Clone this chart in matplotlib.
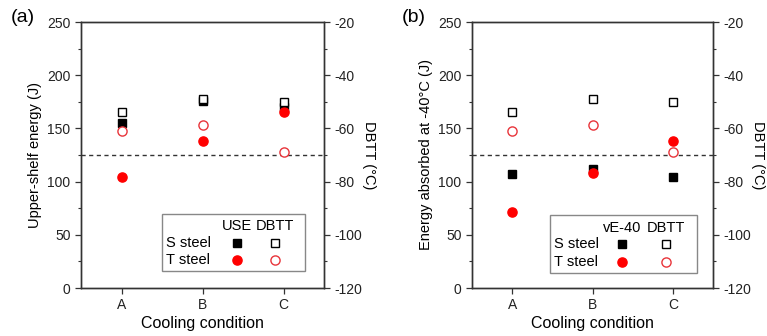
import numpy as np
import matplotlib
matplotlib.use('Agg')
import matplotlib.pyplot as plt
from matplotlib.patches import Rectangle

plt.rcParams['font.family'] = ['Liberation Sans', 'DejaVu Sans']
plt.rcParams['axes.unicode_minus'] = False

# data
conditions = ['A', 'B', 'C']
use_S = [155, 176, 170]          # upper-shelf energy (J)
use_T = [104, 138, 165]
ve40_S = [107, 112, 104]         # energy absorbed at -40C (J)
ve40_T = [71, 108, 138]
dbtt_S = [-54.0, -48.8, -50.0]   # DBTT (C), same in both panels
dbtt_T = [-60.8, -58.8, -68.8]
ref_energy = 125                 # dashed reference line (J)

W, H = 767, 336
fig = plt.figure(figsize=(W / 100, H / 100), dpi=100)

GRAY = '#333333'
RED = '#ff0000'
OPEN_RED = '#e8343a'

sty_S_fill = dict(marker='s', ms=5.6, mfc='black', mec='black', ls='none')
sty_S_open = dict(marker='s', ms=5.6, mfc='white', mec='black', mew=1.0, ls='none')
sty_T_fill = dict(marker='o', ms=6.6, mfc=RED, mec=RED, ls='none')
sty_T_open = dict(marker='o', ms=6.6, mfc='white', mec=OPEN_RED, mew=1.0, ls='none')


def style_axis(ax):
    for s in ax.spines.values():
        s.set_color(GRAY)
        s.set_linewidth(1.0)
    ax.tick_params(which='both', direction='out', colors=GRAY, labelcolor='#222222',
                   labelsize=10)
    ax.tick_params(which='major', length=4, width=0.9)
    ax.tick_params(which='minor', length=2.5, width=0.8)


def panel(rect, tag, tag_x, energy_S, energy_T, ylabel, head, box, cols, rows):
    ax = fig.add_axes(rect)
    x = np.arange(1, len(conditions) + 1)
    ax.set_xlim(0.5, 3.5)
    ax.set_ylim(0, 250)
    ax.set_xticks(x)
    ax.set_xticklabels(conditions)
    ax.set_yticks(np.arange(0, 251, 50))
    ax.set_yticks(np.arange(25, 250, 50), minor=True)
    ax.axhline(ref_energy, color='#333333', lw=1.0, ls=(0, (3, 2.5)))
    ax.plot(x, energy_S, **sty_S_fill, zorder=3)
    ax.plot(x, energy_T, **sty_T_fill, zorder=3)
    ax.set_xlabel('Cooling condition', fontsize=11.5, labelpad=3)
    ax.set_ylabel(ylabel, fontsize=10.5, labelpad=4)
    style_axis(ax)
    ax.tick_params(axis='x', pad=3)

    ax2 = ax.twinx()
    ax2.set_ylim(-120, -20)
    ax2.set_yticks(np.arange(-120, -19, 20))
    ax2.set_yticks(np.arange(-110, -20, 20), minor=True)
    ax2.plot(x, dbtt_S, **sty_S_open, zorder=3)
    ax2.plot(x, dbtt_T, **sty_T_open, zorder=3)
    ax2.set_ylabel('DBTT (°C)', fontsize=10.5, rotation=270, labelpad=10)
    style_axis(ax2)

    fig.text(tag_x / W, 1 - 18 / H, tag, fontsize=14, ha='center', va='center')

    # legend table
    x0, y0, x1, y1 = box
    ax2.add_patch(Rectangle((x0, y0), x1 - x0, y1 - y0, transform=ax.transAxes,
                            fill=True, fc='white', ec='#888888', lw=1.0, zorder=5))
    cx_lab, cx_m1, cx_m2 = cols
    ry_head, ry_S, ry_T = rows
    tk = dict(transform=ax.transAxes, fontsize=10.5, va='center', zorder=6)
    ax2.text(cx_m1, ry_head, head, ha='center', **tk)
    ax2.text(cx_m2, ry_head, 'DBTT', ha='center', **tk)
    ax2.text(cx_lab, ry_S, 'S steel', ha='left', **tk)
    ax2.text(cx_lab, ry_T, 'T steel', ha='left', **tk)
    mk = dict(transform=ax.transAxes, zorder=6, clip_on=False)
    ax2.plot([cx_m1], [ry_S], **sty_S_fill, **mk)
    ax2.plot([cx_m2], [ry_S], **sty_S_open, **mk)
    ax2.plot([cx_m1], [ry_T], **sty_T_fill, **mk)
    ax2.plot([cx_m2], [ry_T], **sty_T_open, **mk)
    return ax


def fx(px, left, width):
    return (px - left) / width


ay0, ay1 = 288, 22
bottom = 1 - ay0 / H
height = (ay0 - ay1) / H


def fy(py):
    return (ay0 - py) / (ay0 - ay1)


# panel (a)
la, ra = 81, 324
panel([la / W, bottom, (ra - la) / W, height], '(a)', 23, use_S, use_T,
      'Upper-shelf energy (J)', 'USE',
      (fx(162, la, ra - la), fy(271), fx(305, la, ra - la), fy(214)),
      (fx(166, la, ra - la), fx(237, la, ra - la), fx(275, la, ra - la)),
      (fy(226), fy(243), fy(260)))

# panel (b)
lb, rb = 472, 713
panel([lb / W, bottom, (rb - lb) / W, height], '(b)', 414, ve40_S, ve40_T,
      'Energy absorbed at -40°C (J)', 'vE-40',
      (fx(550, lb, rb - lb), fy(273), fx(697, lb, rb - lb), fy(215)),
      (fx(554, lb, rb - lb), fx(622, lb, rb - lb), fx(666, lb, rb - lb)),
      (fy(228), fy(244), fy(262)))

fig.savefig('out.png', dpi=100)
